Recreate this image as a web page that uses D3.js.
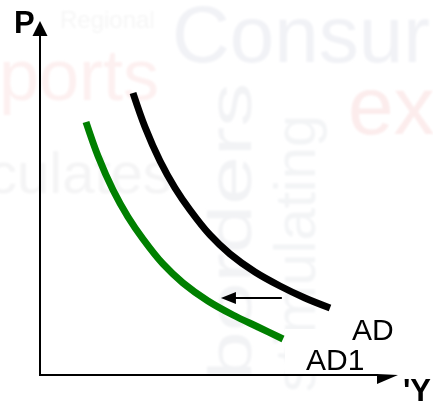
<!DOCTYPE html>
<html><head><meta charset="utf-8">
<script src="https://cdn.jsdelivr.net/npm/d3@7"></script>
<style>html,body{margin:0;padding:0;background:#fff;overflow:hidden}svg{display:block;font-family:"Liberation Sans",Arial,sans-serif}</style>
</head><body>
<script>
// Curves (x = output Y, y = price level P), in axis units 0..10
const adX  = [2.657, 3.000, 3.429, 3.857, 4.286, 4.857, 5.429, 6.143, 6.857, 7.571, 8.286];
const adY  = [7.944, 6.986, 6.028, 5.268, 4.648, 3.944, 3.408, 2.901, 2.507, 2.169, 1.887];
const ad1X = [1.314, 1.657, 2.086, 2.514, 2.943, 3.514, 4.086, 4.800, 5.514, 6.229, 6.943];
const ad1Y = [7.127, 6.169, 5.211, 4.451, 3.831, 3.127, 2.592, 2.085, 1.690, 1.352, 1.014];
// shift arrow (from AD toward AD1)
const shiftX = [6.91, 5.17];
const shiftY = 2.17;
const labels = ["AD", "AD1"];
const axisLabels = ["P", "'Y"];
// faint background words
const bgWords = ["Consur", "ports", "ex", "culates", "borders", "stimulating", "Regional"];

const W = 433, H = 405;
const svg = d3.select("body").append("svg").attr("width", W).attr("height", H);

const defs = svg.append("defs");
defs.append("filter").attr("id","soft").append("feGaussianBlur").attr("stdDeviation",0.8);

// background word cloud (very faint)
const bg = svg.append("g").attr("filter","url(#soft)");
bg.append("text").attr("x",172).attr("y",62).attr("font-size",80).attr("fill","#f1f2f6").text(bgWords[0]);
bg.append("text").attr("x",-1).attr("y",100).attr("font-size",72).attr("fill","#fdf0f0").text(bgWords[1]);
bg.append("text").attr("x",348).attr("y",134).attr("font-size",82).attr("fill","#fcecec").text(bgWords[2]);
bg.append("text").attr("x",-12).attr("y",193).attr("font-size",58).attr("fill","#f4f4f5").text(bgWords[3]);
bg.append("text").attr("transform","translate(251,380) rotate(-90)").attr("font-size",62)
  .attr("textLength",297).attr("lengthAdjust","spacingAndGlyphs").attr("fill","#f2f3f5").text(bgWords[4]);
bg.append("text").attr("transform","translate(315,392) rotate(-90)").attr("font-size",58)
  .attr("fill","#f3f4f6").text(bgWords[5]);
bg.append("text").attr("x",60).attr("y",28).attr("font-size",24).attr("fill","#f6f6f6").text(bgWords[6]);

const x = d3.scaleLinear().domain([0, 10]).range([40, 390]);
const y = d3.scaleLinear().domain([0, 10]).range([375, 20]);

const line = d3.line().x(d => x(d[0])).y(d => y(d[1])).curve(d3.curveCatmullRom.alpha(0.5));
const ad = adX.map((v,i) => [v, adY[i]]);
const ad1 = ad1X.map((v,i) => [v, ad1Y[i]]);

svg.append("path").attr("d", line(ad)).attr("fill","none").attr("stroke","#000").attr("stroke-width",7);
svg.append("path").attr("d", line(ad1)).attr("fill","none").attr("stroke","#008000").attr("stroke-width",7);

// white box behind AD1 label
svg.append("rect").attr("x",285).attr("y",329).attr("width",80).attr("height",45).attr("fill","#fff");

// axes
svg.append("line").attr("x1",x(0)).attr("y1",y(0)+1).attr("x2",x(0)).attr("y2",y(10)+15)
  .attr("stroke","#000").attr("stroke-width",2);
svg.append("line").attr("x1",x(0)-1).attr("y1",y(0)).attr("x2",x(10)-12).attr("y2",y(0))
  .attr("stroke","#000").attr("stroke-width",2);
// y arrowhead
svg.append("path").attr("d",`M${x(0)},${y(10)+1} L${x(0)-7.5},${y(10)+16} L${x(0)+7.5},${y(10)+16} Z`).attr("fill","#000");
// x arrowhead (lower half visible)
svg.append("path").attr("d",`M${x(10)-13},${y(0)-1} L${x(10)+8},${y(0)} L${x(10)-13},${y(0)+9} Z`).attr("fill","#000");

// shift arrow
svg.append("line").attr("x1",x(shiftX[0])).attr("y1",y(shiftY)).attr("x2",x(shiftX[1])+14).attr("y2",y(shiftY))
  .attr("stroke","#000").attr("stroke-width",2);
svg.append("path").attr("d",`M${x(shiftX[1])},${y(shiftY)} L${x(shiftX[1])+15},${y(shiftY)-6} L${x(shiftX[1])+15},${y(shiftY)+6} Z`).attr("fill","#000");

// labels
svg.append("text").attr("x",352).attr("y",340).attr("font-size",30).attr("fill","#000").text(labels[0]);
svg.append("text").attr("x",306).attr("y",370).attr("font-size",30).attr("fill","#000").text(labels[1]);
svg.append("text").attr("x",14).attr("y",33).attr("font-size",31).attr("font-weight","bold").attr("fill","#000").text(axisLabels[0]);
svg.append("text").attr("x",403).attr("y",401).attr("font-size",31).attr("font-weight","bold").attr("fill","#000").text(axisLabels[1]);
</script>
</body></html>
